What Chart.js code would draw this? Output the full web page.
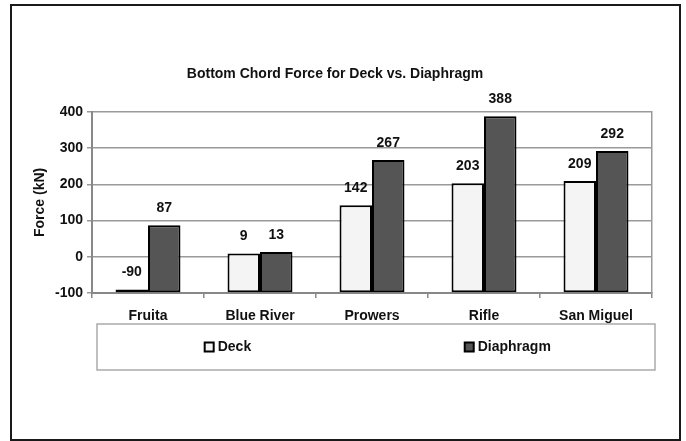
<!DOCTYPE html>
<html>
<head>
<meta charset="utf-8">
<title>Bottom Chord Force for Deck vs. Diaphragm</title>
<script src="https://cdn.jsdelivr.net/npm/chart.js@4/dist/chart.umd.min.js"></script>
<style>
  html, body { margin: 0; padding: 0; background: #fff; }
  #wrap { width: 686px; height: 441px; }
</style>
</head>
<body>
<div id="wrap"><canvas id="forceChart" width="686" height="441"></canvas></div>
<script>
const bridges        = ['Fruita', 'Blue River', 'Prowers', 'Rifle', 'San Miguel'];
const deckForce      = [-90, 9, 142, 203, 209];
const diaphragmForce = [87, 13, 267, 388, 292];
const yTicks         = [-100, 0, 100, 200, 300, 400];

const FONT = '"Liberation Sans", Arial, sans-serif';

Chart.defaults.font.family = FONT;
Chart.defaults.font.size = 14;
Chart.defaults.font.weight = 'bold';
Chart.defaults.color = '#111';

// white page with the dark frame round the whole figure
const frameBox = {
    id: 'frameBox',
    beforeDraw(chart) {
        const ctx = chart.ctx;
        ctx.save();
        ctx.fillStyle = '#fff';
        ctx.fillRect(0, 0, chart.width, chart.height);
        ctx.strokeStyle = '#1a1a1a';
        ctx.lineWidth = 2;
        ctx.strokeRect(11, 5, 669, 435);
        ctx.restore();
    }
};

// numbers above each bar
const valueLabels = {
    id: 'valueLabels',
    afterDatasetsDraw(chart) {
        const ctx = chart.ctx;
        ctx.save();
        ctx.font = 'bold 14px ' + FONT;
        ctx.fillStyle = '#111';
        ctx.textAlign = 'center';
        ctx.textBaseline = 'middle';
        chart.data.datasets.forEach((ds, i) => {
            chart.getDatasetMeta(i).data.forEach((bar, j) => {
                ctx.fillText(String(ds.data[j]), bar.x, bar.y - 17);
            });
        });
        ctx.restore();
    }
};

// Excel-like legend box under the category labels
const boxLegend = {
    id: 'boxLegend',
    afterDraw(chart, args, opts) {
        const { ctx, chartArea } = chart;
        const left = chartArea.left + 5;
        const right = chartArea.right + 3;
        const top = chartArea.bottom + 31;
        const h = 46;
        ctx.save();
        ctx.strokeStyle = '#aaa';
        ctx.lineWidth = 1.5;
        ctx.strokeRect(left, top, right - left, h);
        ctx.font = 'bold 14px ' + FONT;
        ctx.textBaseline = 'middle';
        ctx.textAlign = 'left';
        chart.data.datasets.forEach((ds, i) => {
            const x = left + (right - left) * opts.itemAt[i];
            const y = top + h / 2;
            ctx.fillStyle = ds.backgroundColor;
            ctx.fillRect(x, y - 4.5, 9, 9);
            ctx.strokeStyle = '#000';
            ctx.lineWidth = 2;
            ctx.strokeRect(x, y - 4.5, 9, 9);
            ctx.fillStyle = '#111';
            ctx.fillText(ds.label, x + 13, y);
        });
        ctx.restore();
    }
};

new Chart(document.getElementById('forceChart'), {
    type: 'bar',
    data: {
        labels: bridges,
        datasets: [
            {
                label: 'Deck',
                data: deckForce,
                base: -100,
                backgroundColor: '#f4f4f4',
                borderColor: '#000',
                borderWidth: 2,
                borderSkipped: false,
                categoryPercentage: 0.58,
                barPercentage: 1
            },
            {
                label: 'Diaphragm',
                data: diaphragmForce,
                base: -100,
                backgroundColor: '#555555',
                borderColor: '#000',
                borderWidth: 2,
                borderSkipped: false,
                categoryPercentage: 0.58,
                barPercentage: 1
            }
        ]
    },
    options: {
        responsive: false,
        animation: false,
        layout: { padding: { left: 0, right: 16, top: 0, bottom: 118 } },
        plugins: {
            legend: { display: false },
            tooltip: { enabled: false },
            title: {
                display: true,
                text: 'Bottom Chord Force for Deck vs. Diaphragm',
                font: { size: 14, weight: 'bold' },
                color: '#111',
                padding: { top: 66, bottom: 29 }
            },
            boxLegend: { itemAt: [0.193, 0.659] }
        },
        scales: {
            x: {
                grid: { display: true, drawOnChartArea: false, drawTicks: true, tickLength: 5, color: '#888', lineWidth: 1.5 },
                border: { color: '#888', width: 2 },
                ticks: { padding: 10 },
                afterFit(s) { s.height = 30; }
            },
            y: {
                min: -100,
                max: 400,
                afterBuildTicks(s) { s.ticks = yTicks.map(v => ({ value: v })); },
                ticks: { padding: 4 },
                grid: { color: '#999', lineWidth: 1.5, tickLength: 5 },
                border: { color: '#888', width: 2 },
                title: { display: true, text: 'Force (kN)', font: { size: 14, weight: 'bold' }, padding: { top: 32, bottom: 0 } },
                afterFit(s) { s.width = 92; }
            },
            y2: {
                position: 'right',
                ticks: { display: false },
                grid: { display: false },
                border: { display: true, color: '#999', width: 1.5 },
                afterFit(s) { s.width = 18; }
            }
        }
    },
    plugins: [frameBox, valueLabels, boxLegend]
});
</script>
</body>
</html>
